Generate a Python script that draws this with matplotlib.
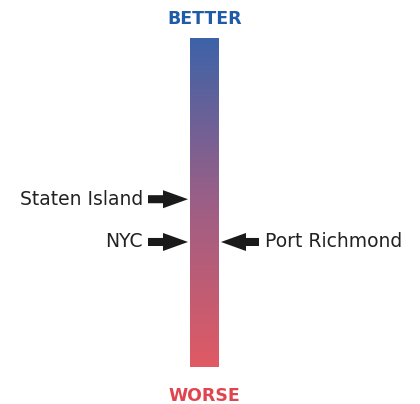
import numpy as np
import matplotlib
matplotlib.use("Agg")
import matplotlib.pyplot as plt
from matplotlib.colors import LinearSegmentedColormap

# Data: position on the better(1) / worse(0) scale
left_labels = ["Staten Island", "NYC"]
left_values = [0.51, 0.38]
right_labels = ["Port Richmond"]
right_values = [0.38]
top_label = "BETTER"
bottom_label = "WORSE"

fig = plt.figure(figsize=(4.2, 4.04), dpi=100)
ax = fig.add_axes([0, 37/404, 1, 329/404])
ax.set_xlim(0, 420)
ax.set_ylim(0, 1)
ax.axis("off")

cmap = LinearSegmentedColormap.from_list("bw", ["#e05a64", "#9c5f86", "#3d63a8"])
grad = np.linspace(0, 1, 256).reshape(-1, 1)
ax.imshow(grad, cmap=cmap, origin="lower", extent=[190, 219, 0, 1], aspect="auto", zorder=1)

font = "DejaVu Sans"
ax.text(204.5, 1.058, top_label, ha="center", va="center", fontsize=12.5,
        fontweight="bold", color="#1f5ba6", family=font)
ax.text(204.5, -0.087, bottom_label, ha="center", va="center", fontsize=12.5,
        fontweight="bold", color="#e0454f", family=font)

arrow_kw = dict(arrowstyle="simple,head_length=1.8,head_width=1.3,tail_width=0.58",
                color="#1a1a1a", lw=0, mutation_scale=10, shrinkA=0, shrinkB=0)
for lab, v in zip(left_labels, left_values):
    ax.annotate("", xy=(188, v), xytext=(148, v), arrowprops=arrow_kw)
    ax.text(143, v, lab, ha="right", va="center", fontsize=13.5, color="#222222", family=font)
for lab, v in zip(right_labels, right_values):
    ax.annotate("", xy=(221, v), xytext=(259, v), arrowprops=arrow_kw)
    ax.text(265, v, lab, ha="left", va="center", fontsize=13.5, color="#222222", family=font)

fig.savefig("out.png", dpi=100)
